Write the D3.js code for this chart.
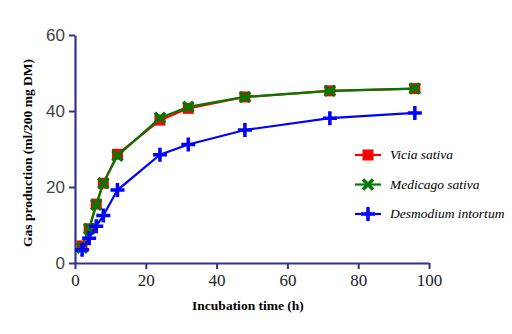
<!DOCTYPE html>
<html>
<head>
<meta charset="utf-8">
<script src="https://cdn.jsdelivr.net/npm/d3@7"></script>
<style>
  body { margin: 0; background: #fff; }
  svg { display: block; }
  .serif { font-family: "Times New Roman", "Liberation Serif", "DejaVu Serif", serif; }
</style>
</head>
<body>
<div id="chart"></div>
<script>
// incubation times (h)
const hours = [2, 4, 6, 8, 12, 24, 32, 48, 72, 96];
const vicia = [4.5, 9.0, 15.5, 21.0, 28.6, 37.6, 40.7, 43.7, 45.3, 45.9];
const medicago = [4.0, 9.0, 15.3, 21.0, 28.2, 38.2, 41.1, 43.7, 45.3, 45.9];
const desmodium = [3.5, 6.5, 9.7, 12.5, 19.2, 28.5, 31.2, 35.0, 38.1, 39.5];
const seriesNames = ["Vicia sativa", "Medicago sativa", "Desmodium intortum"];
const xTicks = [0, 20, 40, 60, 80, 100];
const yTicks = [0, 20, 40, 60];

var width = 512, height = 334;
var axisColor = "#33338a";

var svg = d3.select("#chart").append("svg")
    .attr("width", width)
    .attr("height", height);

var x = d3.scaleLinear().domain([0, 100]).range([75, 429]);
var y = d3.scaleLinear().domain([0, 60]).range([263, 35]);

// axes
var xAxis = svg.append("g")
    .attr("transform", "translate(0," + y(0) + ")")
    .call(d3.axisBottom(x).tickValues(xTicks).tickSize(6).tickSizeOuter(0));
var yAxis = svg.append("g")
    .attr("transform", "translate(" + x(0) + ",0)")
    .call(d3.axisLeft(y).tickValues(yTicks).tickSize(6).tickSizeOuter(0));

[xAxis, yAxis].forEach(function(a) {
  a.attr("font-family", null);
  a.select(".domain").attr("stroke", axisColor).attr("stroke-width", 2.2);
  a.selectAll(".tick line").attr("stroke", axisColor).attr("stroke-width", 2);
});
xAxis.selectAll("text")
    .attr("class", "serif")
    .attr("fill", "#222")
    .style("font-size", "17px")
    .attr("dy", "0.85em");
yAxis.selectAll("text")
    .attr("fill", "#444")
    .style("font-family", "Arial, 'Liberation Sans', sans-serif")
    .style("font-size", "17px")
    .attr("dx", "-1px");

// axis titles
svg.append("text")
    .attr("class", "serif")
    .attr("x", (x(0) + x(100)) / 2 - 4)
    .attr("y", 310)
    .attr("text-anchor", "middle")
    .style("font-weight", "bold")
    .style("font-size", "13.5px")
    .text("Incubation time (h)");
svg.append("text")
    .attr("class", "serif")
    .attr("transform", "translate(32," + ((y(0) + y(60)) / 2 + 4) + ") rotate(-90)")
    .attr("text-anchor", "middle")
    .style("font-weight", "bold")
    .style("font-size", "13.5px")
    .text("Gas production (ml/200 mg DM)");

var series = [
  { name: seriesNames[0], values: vicia, color: "#ff0000", marker: "square" },
  { name: seriesNames[1], values: medicago, color: "#007a00", marker: "cross" },
  { name: seriesNames[2], values: desmodium, color: "#0000ff", marker: "plus" }
];

var line = d3.line()
    .x(function(d) { return x(d[0]); })
    .y(function(d) { return y(d[1]); });

function drawMarker(g, kind, color) {
  if (kind === "square") {
    g.append("rect").attr("x", -5.5).attr("y", -5.5).attr("width", 11).attr("height", 11)
      .attr("fill", color);
  } else if (kind === "cross") {
    g.append("path").attr("d", "M-5,-5L5,5M-5,5L5,-5")
      .attr("stroke", color).attr("stroke-width", 3.5);
  } else {
    g.append("path").attr("d", "M-7,0L7,0M0,-7L0,7")
      .attr("stroke", color).attr("stroke-width", 3.5);
  }
}

series.forEach(function(s) {
  var pts = hours.map(function(h, i) { return [h, s.values[i]]; });
  svg.append("path")
      .datum(pts)
      .attr("fill", "none")
      .attr("stroke", s.color)
      .attr("stroke-width", 2.2)
      .attr("d", line);
  svg.selectAll(null)
      .data(pts)
    .enter().append("g")
      .attr("transform", function(d) { return "translate(" + x(d[0]) + "," + y(d[1]) + ")"; })
      .each(function() { drawMarker(d3.select(this), s.marker, s.color); });
});

// legend
var legend = svg.append("g");
series.forEach(function(s, i) {
  var ly = 155 + i * 29.5;
  var lg = legend.append("g").attr("transform", "translate(0," + ly + ")");
  lg.append("line").attr("x1", 355).attr("x2", 381).attr("y1", 0).attr("y2", 0)
    .attr("stroke", s.color).attr("stroke-width", 2.2);
  var m = lg.append("g").attr("transform", "translate(368,0)");
  drawMarker(m, s.marker, s.color);
  lg.append("text")
    .attr("class", "serif")
    .attr("x", 390)
    .attr("y", 4)
    .style("font-style", "italic")
    .style("font-size", "13.5px")
    .text(s.name);
});
</script>
</body>
</html>
